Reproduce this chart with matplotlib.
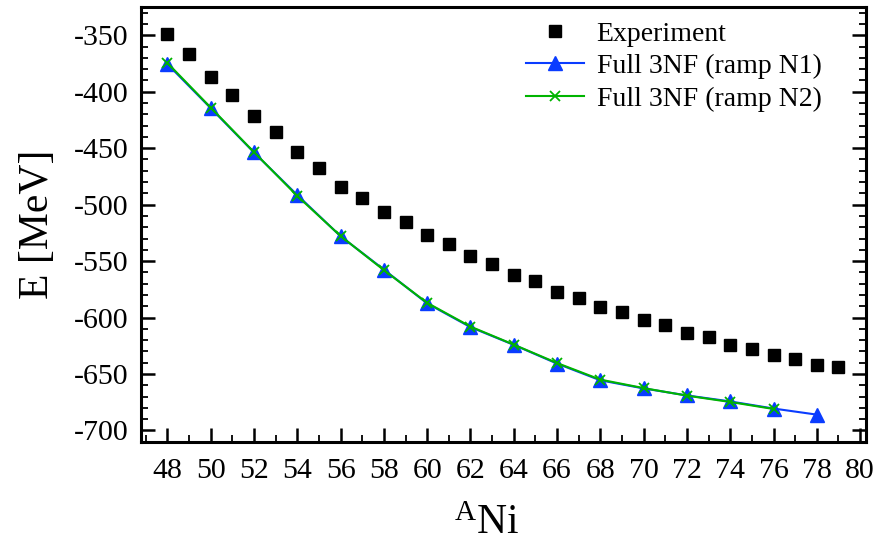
import matplotlib
matplotlib.use("Agg")
import matplotlib.pyplot as plt
from matplotlib.ticker import MultipleLocator

plt.rcParams['font.family'] = ['Liberation Serif', 'DejaVu Serif']
plt.rcParams['mathtext.fontset'] = 'custom'
plt.rcParams['mathtext.rm'] = 'Liberation Serif'
plt.rcParams['mathtext.it'] = 'Liberation Serif:italic'
plt.rcParams['axes.unicode_minus'] = False

# Experiment
exp_A = list(range(48, 80))
exp_E = [-349.1, -366.8, -386.6, -402.8, -421.4, -435.6, -453.3, -467.5,
         -484.3, -494.3, -506.7, -515.6, -527.1, -534.8, -545.4, -552.5,
         -561.9, -567.8, -577.3, -582.9, -590.6, -595.3, -602.3, -606.8,
         -613.9, -617.4, -623.9, -627.8, -633.6, -636.6, -641.9, -643.7]

# Full 3NF (ramp N1)
n1_A = [48, 50, 52, 54, 56, 58, 60, 62, 64, 66, 68, 70, 72, 74, 76, 78]
n1_E = [-375.5, -414.5, -453.8, -491.5, -528.0, -557.5, -587.5, -608.5,
        -624.2, -640.8, -655.6, -662.8, -669.0, -674.3, -680.6, -686.0]

# Full 3NF (ramp N2)
n2_A = [48, 50, 52, 54, 56, 58, 60, 62, 64, 66, 68, 70, 72, 74, 76]
n2_E = [-374.5, -414.0, -453.5, -492.3, -527.8, -558.0, -587.0, -608.0,
        -624.0, -640.3, -655.0, -662.5, -669.2, -674.8, -681.0]

fig = plt.figure(figsize=(8.89, 5.45), dpi=100)
ax = fig.add_axes([0.1586, 0.1895, 0.9736 - 0.1586, 0.987 - 0.1895])

ax.plot(exp_A, exp_E, linestyle='none', marker='s', markersize=8,
        color='black', label='Experiment')
ax.plot(n1_A, n1_E, '-', marker='^', markersize=10, color='#0a3cff',
        linewidth=1.5, label='Full 3NF (ramp N1)')
ax.plot(n2_A, n2_E, '-', marker='x', markersize=7, markeredgewidth=1.3,
        color='#00b400', linewidth=1.5, label='Full 3NF (ramp N2)')

ax.set_xlim(46.78, 80.25)
ax.set_ylim(-710, -325)

ax.xaxis.set_major_locator(MultipleLocator(2))
ax.xaxis.set_minor_locator(MultipleLocator(1))
ax.yaxis.set_major_locator(MultipleLocator(50))
ax.yaxis.set_minor_locator(MultipleLocator(10))

ax.tick_params(axis='both', which='both', direction='in', top=False, right=True,
               labelsize=21.5)
ax.tick_params(which='major', length=10, width=1.8)
ax.tick_params(which='minor', length=5, width=1.3)
ax.tick_params(axis='x', pad=12)
ax.tick_params(axis='y', pad=9)
for s in ax.spines.values():
    s.set_linewidth(2.2)

ax.set_ylabel('E [MeV]', fontsize=30, labelpad=12)
ax.set_xlabel(r'$^{\mathrm{A}}\mathrm{Ni}$', fontsize=30)
ax.xaxis.label.set_va('baseline')
ax.xaxis.set_label_coords(0.477, -0.2125)

ax.legend(loc='upper right', frameon=False, fontsize=20, handlelength=2.1,
          handletextpad=0.45, labelspacing=0.25, borderaxespad=0.3,
          bbox_to_anchor=(0.966, 1.012))

fig.savefig('out.png', dpi=100)
